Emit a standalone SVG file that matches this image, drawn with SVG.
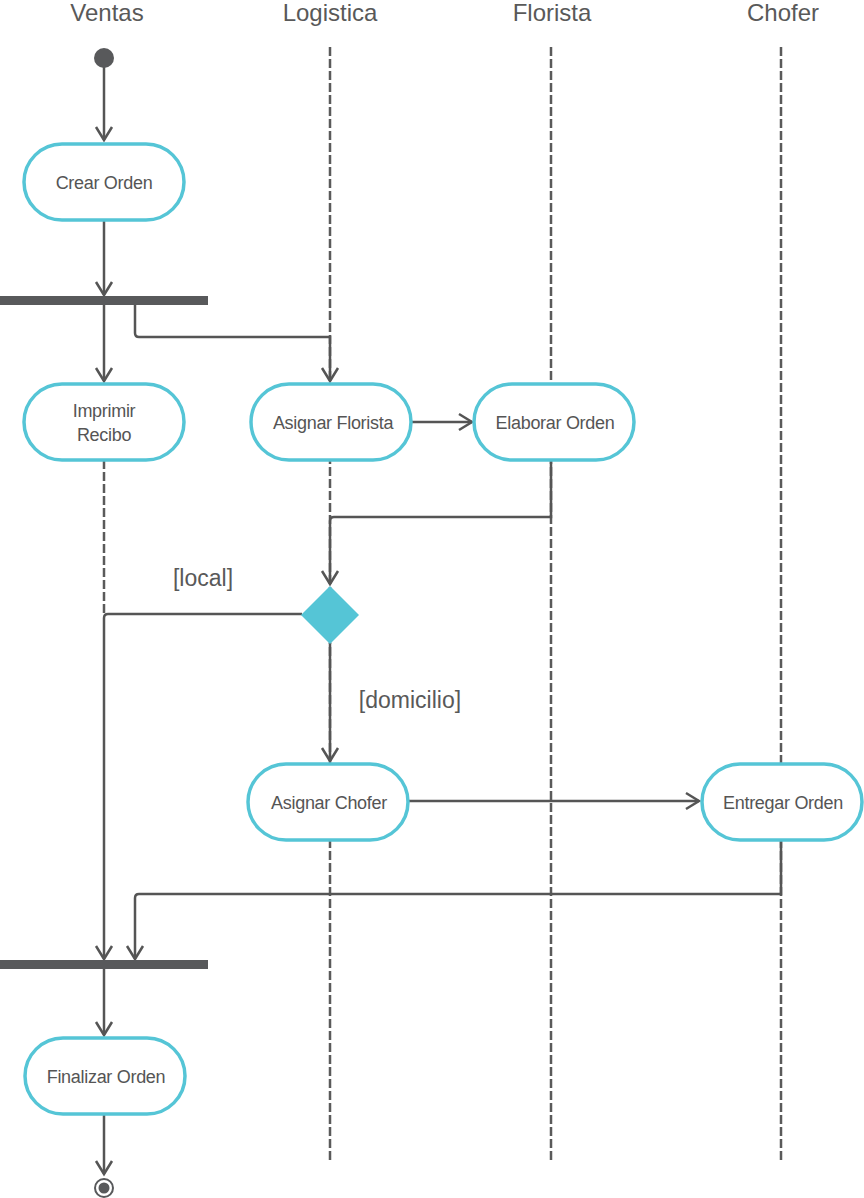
<svg xmlns="http://www.w3.org/2000/svg" width="864" height="1198" viewBox="0 0 864 1198">
<defs>
<style>
.hdr{font-family:"Liberation Sans",Arial,sans-serif;font-size:24px;fill:#595959;text-anchor:middle}
.lbl{font-family:"Liberation Sans",Arial,sans-serif;font-size:18px;fill:#555;text-anchor:middle;letter-spacing:-0.3px}
.grd{font-family:"Liberation Sans",Arial,sans-serif;font-size:23px;fill:#595959;text-anchor:middle}
.life{stroke:#5a5a5a;stroke-width:2.5;stroke-dasharray:9 3;fill:none}
.act{fill:#fff;stroke:#55c5d6;stroke-width:3.5}
.con{stroke:#555;stroke-width:2.5;fill:none;marker-end:url(#arr)}
.bar{fill:#58595b}
</style>
<marker id="arr" viewBox="-15 -10 20 20" refX="0" refY="0" markerWidth="20" markerHeight="20" markerUnits="userSpaceOnUse" orient="auto">
<path d="M-13,-8 L0,0 L-13,8" fill="none" stroke="#555" stroke-width="2.5"/>
</marker>
</defs>
<g id="headers">
<text class="hdr" x="107" y="21">Ventas</text>
<text class="hdr" x="330" y="21">Logistica</text>
<text class="hdr" x="552" y="21">Florista</text>
<text class="hdr" x="783" y="21">Chofer</text>
</g>
<g id="lifelines">
<line class="life" x1="104" y1="460" x2="104" y2="614"/>
<line class="life" x1="330" y1="47" x2="330" y2="1160"/>
<line class="life" x1="551" y1="47" x2="551" y2="1160"/>
<line class="life" x1="781" y1="47" x2="781" y2="1160"/>
</g>
<g id="connectors">
<path class="con" d="M104,66 L104,140"/>
<path class="con" d="M104,220 L104,295"/>
<path class="con" d="M104,304 L104,381"/>
<path class="con" d="M135,304 L135,333 Q135,337 139,337 L330,337 L330,381"/>
<path class="con" d="M411,422 L472,422"/>
<path class="con" d="M551,460 L551,517 L334,517 Q330,517 330,521 L330,584"/>
<path class="con" d="M302,614 L108,614 Q104,614 104,618 L104,959"/>
<path class="con" d="M330,643 L330,761"/>
<path class="con" d="M408,801 L699,801"/>
<path class="con" d="M781,840 L781,894 L139,894 Q135,894 135,898 L135,959"/>
<path class="con" d="M104,968 L104,1035"/>
<path class="con" d="M104,1114 L104,1174"/>
</g>
<g id="start"><circle cx="104" cy="58" r="10" fill="#58595b"/></g>
<g id="crear-orden"><rect class="act" x="24" y="144" width="160" height="76" rx="38"/><text class="lbl" x="104" y="189">Crear Orden</text></g>
<g id="fork"><rect class="bar" x="0" y="296" width="208" height="9"/></g>
<g id="imprimir-recibo"><rect class="act" x="24" y="384" width="160" height="76" rx="38"/><text class="lbl" x="104" y="417">Imprimir</text><text class="lbl" x="104" y="441">Recibo</text></g>
<g id="asignar-florista"><rect class="act" x="251" y="384" width="160" height="76" rx="38"/><text class="lbl" x="333" y="429">Asignar Florista</text></g>
<g id="elaborar-orden"><rect class="act" x="474" y="384" width="160" height="76" rx="38"/><text class="lbl" x="555" y="429">Elaborar Orden</text></g>
<g id="decision"><polygon points="330,586 359,615 330,644 301,615" fill="#55c5d6"/></g>
<g id="guards">
<text class="grd" x="203" y="586">[local]</text>
<text class="grd" x="410" y="708">[domicilio]</text>
</g>
<g id="asignar-chofer"><rect class="act" x="248" y="764" width="160" height="76" rx="38"/><text class="lbl" x="329" y="809">Asignar Chofer</text></g>
<g id="entregar-orden"><rect class="act" x="702" y="764" width="160" height="76" rx="38"/><text class="lbl" x="783" y="809">Entregar Orden</text></g>
<g id="join"><rect class="bar" x="0" y="960" width="208" height="9"/></g>
<g id="finalizar-orden"><rect class="act" x="25" y="1038" width="160" height="76" rx="38"/><text class="lbl" x="106" y="1083">Finalizar Orden</text></g>
<g id="end"><circle cx="104" cy="1188" r="9" fill="#fff" stroke="#58595b" stroke-width="2"/><circle cx="104" cy="1188" r="5.5" fill="#58595b"/></g>
</svg>
